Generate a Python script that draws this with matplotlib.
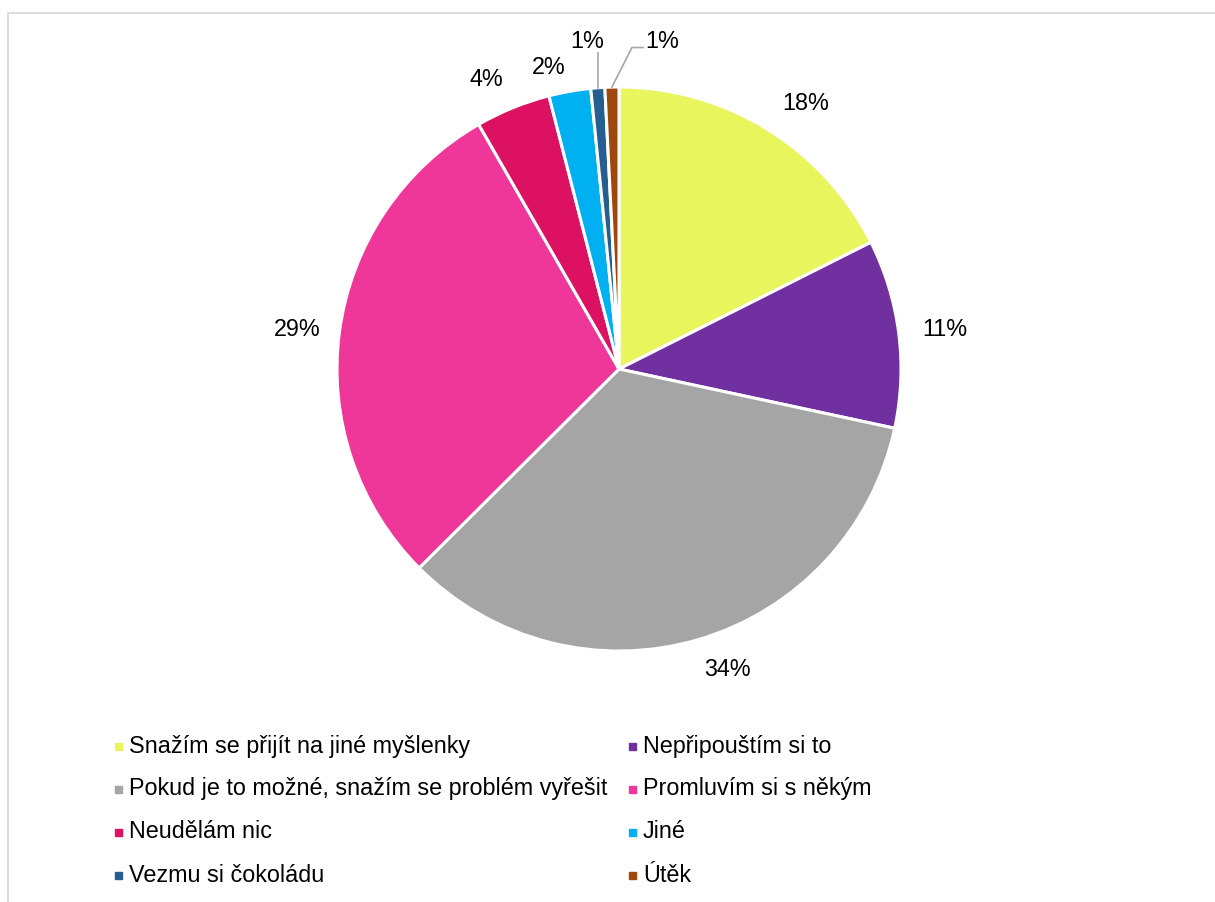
import numpy as np
import matplotlib.pyplot as plt
from matplotlib.patches import Rectangle

plt.rcParams['font.family'] = ['Liberation Sans', 'DejaVu Sans']

# Data
categories = ['Snažím se přijít na jiné myšlenky', 'Nepřipouštím si to',
              'Pokud je to možné, snažím se problém vyřešit', 'Promluvím si s někým',
              'Neudělám nic', 'Jiné', 'Vezmu si čokoládu', 'Útěk']
values = [17.6, 10.8, 34.2, 29.2, 4.3, 2.4, 0.8, 0.8]
colors = ['#E8F55C', '#7030A0', '#A5A5A5', '#EF3799',
          '#DC1161', '#00B0F0', '#255E91', '#9E480E']

W, H = 1215, 902
FS = 16.8
fig = plt.figure(figsize=(W / 100, H / 100), dpi=100)

# frame
fig.patches.append(Rectangle((8 / W, -0.1), 1.2, 1 - 13 / H + 0.1, transform=fig.transFigure,
                             fill=False, edgecolor='#D9D9D9', linewidth=1.3))

cx, cy, r = 619, 369, 282
ax = fig.add_axes([(cx - r) / W, (H - cy - r) / H, 2 * r / W, 2 * r / H])
wedges, texts, autotexts = ax.pie(values, colors=colors, startangle=90, counterclock=False,
                                  autopct='%.0f%%', pctdistance=1.15,
                                  wedgeprops=dict(edgecolor='white', linewidth=2.2),
                                  textprops=dict(fontsize=FS, color='black'))
ax.set_xlim(-1, 1)
ax.set_ylim(-1, 1)
ax.set_aspect('equal')

# label positions (pixel centres like the original layout)
label_px = [(806, 103), (945, 330), (727, 670), (297, 329), (486, 80), (549, 67),
            (587, 42), (662, 42)]
for t, (lx, ly) in zip(autotexts, label_px):
    t.set_position(((lx - cx) / r, (cy - ly) / r))

# leader lines for the two smallest slices
for k, idx in enumerate([6, 7]):
    w = wedges[idx]
    mid = np.deg2rad((w.theta1 + w.theta2) / 2)
    px, py = np.cos(mid), np.sin(mid)
    if k == 0:
        ax.plot([px, px], [py, 1.12], color='#A6A6A6', lw=1.2, clip_on=False)
    else:
        ax.plot([px, 0.046, 0.085], [py, 1.14, 1.14], color='#A6A6A6', lw=1.2, clip_on=False)

# legend
for i, (lab, col) in enumerate(zip(categories, colors)):
    x = 118 if i % 2 == 0 else 632
    y = 746 + (i // 2) * 43
    fig.patches.append(Rectangle(((x - 3.5) / W, 1 - (y + 3.5) / H), 7 / W, 7 / H,
                                 transform=fig.transFigure, color=col))
    fig.text((x + 11) / W, 1 - y / H, lab, fontsize=FS, va='center', ha='left')

fig.savefig('out.png', dpi=100)
